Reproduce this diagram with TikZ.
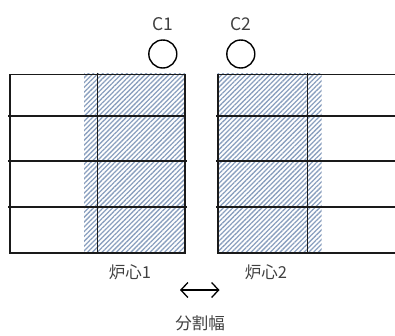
\documentclass[tikz,border=0pt]{standalone}
\usepackage{fontspec}
\setmainfont{Noto Sans CJK JP}
\usetikzlibrary{patterns.meta,arrows.meta}
\definecolor{hatchblue}{HTML}{8A9FBE}
\definecolor{txtgray}{HTML}{404040}
\definecolor{linedark}{HTML}{1A1A1A}
\tikzset{
  gridline/.style={draw=linedark,line width=1.6pt},
  hatchfill/.style={pattern={Lines[angle=45,distance=3.4pt,line width=1.3pt]},pattern color=hatchblue},
  lbl/.style={text=txtgray,font=\fontsize{16.5pt}{19pt}\selectfont,inner sep=0pt},
  rod/.style={circle,draw=black,line width=1.4pt,minimum size=28pt,inner sep=0pt},
}
\begin{document}
\begin{tikzpicture}[x=1pt,y=-1pt]
\useasboundingbox (0,0) rectangle (395,335);
% hatched regions
\fill[hatchfill] (84,73.5) rectangle (185,253);
\fill[hatchfill] (217.7,73.5) rectangle (321.7,253);
% left block
\draw[gridline] (185,74.5) -- (10,74.5) -- (10,253) -- (185,253) -- cycle;
\draw[gridline] (8,116) -- (186,116);
\draw[gridline] (8,161) -- (187,161);
\draw[gridline] (8,207) -- (187,207);
\draw[gridline] (97.3,72.5) -- (97.3,253);
% right block
\draw[gridline] (395,74.5) -- (217.7,74.5) -- (217.7,253) -- (395,253);
\draw[gridline] (216,116) -- (395,116);
\draw[gridline] (216,161) -- (395,161);
\draw[gridline] (216,207) -- (395,207);
\draw[gridline] (307.5,72.5) -- (307.5,253);
% control rods
\node[rod] (c1) at (162.8,54) {};
\node[rod] (c2) at (240.8,54) {};
\node[lbl,font=\fontsize{17.5pt}{20pt}\selectfont] (c1l) at (163,24) {C1};
\node[lbl,font=\fontsize{17.5pt}{20pt}\selectfont] (c2l) at (240.5,24) {C2};
% labels
\node[lbl] (core1) at (130,272.5) {炉心1};
\node[lbl] (core2) at (266,272.5) {炉心2};
\coordinate (aL) at (180,290);
\coordinate (aR) at (219.5,290);
\draw[line width=1.3pt,{Straight Barb[length=7pt,width=15pt]}-{Straight Barb[length=7pt,width=15pt]}] (aL) -- (aR);
\node[lbl] (width) at (200,323) {分割幅};
\end{tikzpicture}
\end{document}
